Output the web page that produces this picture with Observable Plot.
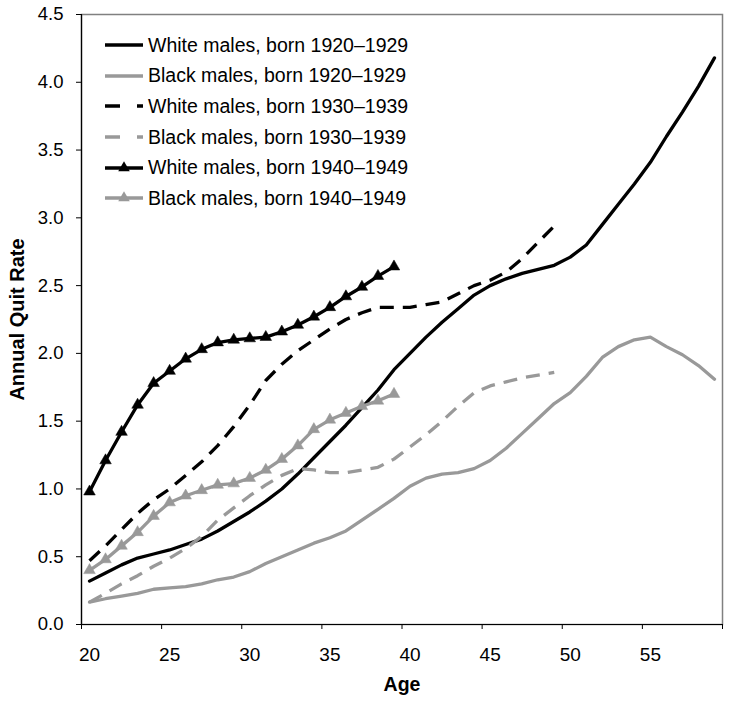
<!DOCTYPE html>
<html><head><meta charset="utf-8">
<script src="https://cdn.jsdelivr.net/npm/d3@7"></script>
<script src="https://cdn.jsdelivr.net/npm/@observablehq/plot@0.6"></script>
<style>
body{margin:0;background:#fff;}
#wrap{position:relative;width:729px;height:701px;}
#legend{position:absolute;left:105px;top:30px;font-family:"Liberation Sans",Arial,sans-serif;font-size:19.5px;color:#000;}
.row{display:flex;align-items:center;height:30.6px;white-space:nowrap;}
.row svg{margin-right:5px;flex:none;}
</style></head><body><div id="wrap"><div id="legend"></div></div>
<script>
// ---- data ----
const ages = [20,21,22,23,24,25,26,27,28,29,30,31,32,33,34,35,36,37,38,39,40,41,42,43,44,45,46,47,48,49,50,51,52,53,54,55,56,57,58,59];
const seriesNames = [
  "White males, born 1920\u20131929",
  "Black males, born 1920\u20131929",
  "White males, born 1930\u20131939",
  "Black males, born 1930\u20131939",
  "White males, born 1940\u20131949",
  "Black males, born 1940\u20131949"
];
const white1920 = [0.32,0.38,0.44,0.49,0.52,0.55,0.59,0.63,0.69,0.76,0.83,0.91,1.00,1.11,1.23,1.35,1.47,1.60,1.73,1.88,2.00,2.12,2.23,2.33,2.43,2.50,2.55,2.59,2.62,2.65,2.71,2.80,2.95,3.10,3.25,3.41,3.60,3.78,3.97,4.18];
const black1920 = [0.165,0.19,0.21,0.23,0.26,0.27,0.28,0.30,0.33,0.35,0.39,0.45,0.50,0.55,0.60,0.64,0.69,0.77,0.85,0.93,1.02,1.08,1.11,1.12,1.15,1.21,1.30,1.41,1.52,1.63,1.71,1.83,1.97,2.05,2.10,2.12,2.05,1.99,1.91,1.81];
const white1930 = [0.47,0.58,0.70,0.82,0.92,1.00,1.10,1.20,1.32,1.46,1.62,1.80,1.92,2.02,2.10,2.18,2.25,2.30,2.34,2.34,2.34,2.36,2.38,2.44,2.50,2.54,2.60,2.70,2.82,2.94];
const black1930 = [0.165,0.23,0.30,0.36,0.43,0.49,0.56,0.65,0.77,0.86,0.95,1.03,1.10,1.15,1.14,1.12,1.12,1.14,1.16,1.22,1.31,1.40,1.50,1.61,1.71,1.76,1.79,1.82,1.84,1.86];
const white1940 = [0.98,1.21,1.42,1.62,1.78,1.87,1.96,2.03,2.08,2.10,2.11,2.12,2.16,2.21,2.27,2.34,2.42,2.49,2.57,2.64];
const black1940 = [0.40,0.48,0.58,0.68,0.80,0.90,0.95,0.99,1.03,1.04,1.08,1.14,1.22,1.32,1.44,1.51,1.56,1.61,1.65,1.70];
const xTickLabels = [20,25,30,35,40,45,50,55];
const yTicks = [0,0.5,1,1.5,2,2.5,3,3.5,4,4.5];

// ---- styles ----
const BLACK = "#000000", GRAY = "#999999";
const seriesValues = [white1920, black1920, white1930, black1930, white1940, black1940];
const styles = [
  {stroke: BLACK, dash: null, marker: false},
  {stroke: GRAY,  dash: null, marker: false},
  {stroke: BLACK, dash: "14,9", marker: false},
  {stroke: GRAY,  dash: "14,9", marker: false},
  {stroke: BLACK, dash: null, marker: true},
  {stroke: GRAY,  dash: null, marker: true}
];
const LW = 3.3;

const tables = seriesValues.map((vals, i) => vals.map((v, j) => ({series: seriesNames[i], age: ages[j], value: v})));
// category boundaries for tick marks (Excel category axis)
const boundaryTicks = xTickLabels.map(t => t - 0.5).concat([ages[ages.length - 1] + 0.5]);

const marks = [
  Plot.frame({stroke: "#808080", strokeWidth: 1.5}),
  Plot.ruleY([0], {stroke: BLACK, strokeWidth: 1.2}),
  Plot.ruleX([ages[0] - 0.5], {stroke: BLACK, strokeWidth: 1.2}),
  Plot.axisY({ticks: yTicks, tickSize: 5, tickPadding: 13, tickFormat: d3.format(".1f"), label: null, stroke: BLACK}),
  Plot.axisX({ticks: boundaryTicks, tickSize: 5, tickFormat: () => "", label: null, stroke: BLACK}),
  Plot.axisX({ticks: xTickLabels, tickSize: 0, tickPadding: 23, label: null, fontSize: 19})
];
tables.forEach((t, i) => {
  const s = styles[i];
  marks.push(Plot.lineY(t, {x: "age", y: "value", stroke: s.stroke, strokeWidth: LW,
    strokeDasharray: s.dash || undefined, strokeLinejoin: "round", strokeLinecap: s.dash ? "butt" : "round"}));
  if (s.marker) marks.push(Plot.dot(t, {x: "age", y: "value", symbol: "triangle", r: 4.3, fill: s.stroke, stroke: s.stroke, strokeWidth: 0.5}));
});
marks.push(Plot.text(["Age"], {frameAnchor: "bottom", dy: 60, fontWeight: "bold", fontSize: 19.5, lineAnchor: "middle", textAnchor: "middle"}));
marks.push(Plot.text(["Annual Quit Rate"], {frameAnchor: "left", dx: -64, rotate: -90, fontWeight: "bold", fontSize: 20, lineAnchor: "middle", textAnchor: "middle"}));

const chart = Plot.plot({
  width: 729, height: 701,
  marginLeft: 81, marginRight: 7, marginTop: 14, marginBottom: 77,
  x: {domain: [ages[0] - 0.5, ages[ages.length - 1] + 0.5]},
  y: {domain: [0, 4.5]},
  style: {fontFamily: "'Liberation Sans', Arial, sans-serif", fontSize: "18.5px", color: "#000", background: "#fff", overflow: "visible"},
  marks
});
document.getElementById("wrap").prepend(chart);

// ---- legend (HTML overlay inside the plot area) ----
const legend = d3.select("#legend");
seriesNames.forEach((name, i) => {
  const s = styles[i];
  const row = legend.append("div").attr("class", "row");
  const sv = row.append("svg").attr("width", 38).attr("height", 14);
  sv.append("line").attr("x1", 0).attr("x2", 38).attr("y1", 7).attr("y2", 7)
    .attr("stroke", s.stroke).attr("stroke-width", LW)
    .attr("stroke-dasharray", s.dash ? "15,17,6" : null);
  if (s.marker) sv.append("path").attr("d", d3.symbol(d3.symbolTriangle, 4.3 * 4.3 * Math.PI)())
    .attr("transform", "translate(19,7)").attr("fill", s.stroke);
  row.append("span").text(name);
});
</script></body></html>
